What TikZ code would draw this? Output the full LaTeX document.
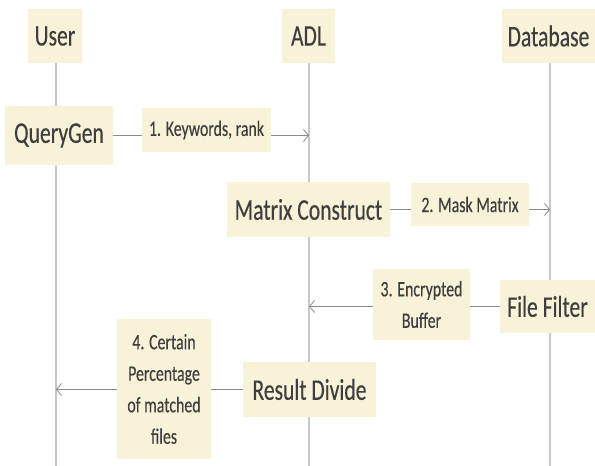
\documentclass[tikz,border=0pt]{standalone}
\usepackage{fontspec}
\usetikzlibrary{arrows.meta,backgrounds}
\newfontfamily\diagfont[FakeStretch=0.72,FakeBold=0.3]{Carlito}
\definecolor{boxfill}{RGB}{247,242,216}
\definecolor{inkgray}{RGB}{62,62,62}
\definecolor{lifegray}{RGB}{200,200,200}
\definecolor{msggray}{RGB}{140,140,140}
\tikzset{
  actor/.style={fill=boxfill, draw=none, inner sep=0pt, text=inkgray,
    font=\diagfont\fontsize{30}{32}\selectfont},
  msglabel/.style={fill=boxfill, draw=none, inner sep=0pt, text=inkgray,
    align=center, font=\diagfont\fontsize{22}{31.5}\selectfont},
  lifeline/.style={draw=lifegray, line width=1.4pt},
  msg/.style={draw=msggray, line width=0.9pt,
    -{Straight Barb[length=5pt,width=12pt,line width=0.8pt]}},
}
\begin{document}
\begin{tikzpicture}[x=1pt,y=-1pt]
\useasboundingbox (0,0) rectangle (595,466);

% participants
\node[actor, minimum width=54pt, minimum height=54pt] (user) at (55,36) {User};
\node[actor, minimum width=53pt, minimum height=54pt] (adl) at (308.5,36) {ADL};
\node[actor, minimum width=93pt, minimum height=54pt] (db) at (548.5,36) {Database};

% activity boxes
\node[actor, minimum width=108pt, minimum height=59pt] (qg) at (59,135.5) {QueryGen};
\node[actor, minimum width=163pt, minimum height=55pt] (mc) at (308.5,209.5) {Matrix Construct};
\node[actor, minimum width=95pt, minimum height=53pt] (ff) at (547.5,306.5) {File Filter};
\node[actor, minimum width=133pt, minimum height=55pt] (rd) at (309.5,389.5) {Result Divide};

% message labels
\node[msglabel, minimum width=129pt, minimum height=44pt] (l1) at (206.5,130) {1. Keywords, rank};
\node[msglabel, minimum width=118pt, minimum height=43pt] (l2) at (470,204.5) {2. Mask Matrix};
\node[msglabel, minimum width=97pt, minimum height=71pt] (l3) at (421.5,304.5) {3. Encrypted\\Buffer};
\node[msglabel, minimum width=94pt, minimum height=140pt] (l4) at (164,389) {4. Certain\\Percentage\\of matched\\files};

% lifeline ends
\coordinate (userEnd) at (56,466);
\coordinate (adlEnd) at (309,466);
\coordinate (dbEnd) at (550,466);

\begin{pgfonlayer}{background}
  \draw[lifeline] (user.south -| userEnd) -- (userEnd);
  \draw[lifeline] (adl.south -| adlEnd) -- (adlEnd);
  \draw[lifeline] (db.south -| dbEnd) -- (dbEnd);
  \draw[msg] (qg.east) -- (qg.east -| adlEnd);
  \draw[msg] (mc.east) -- (mc.east -| dbEnd);
  \draw[msg] (ff.west) -- (ff.west -| adlEnd);
  \draw[msg] (rd.west) -- (rd.west -| userEnd);
\end{pgfonlayer}
\end{tikzpicture}
\end{document}
